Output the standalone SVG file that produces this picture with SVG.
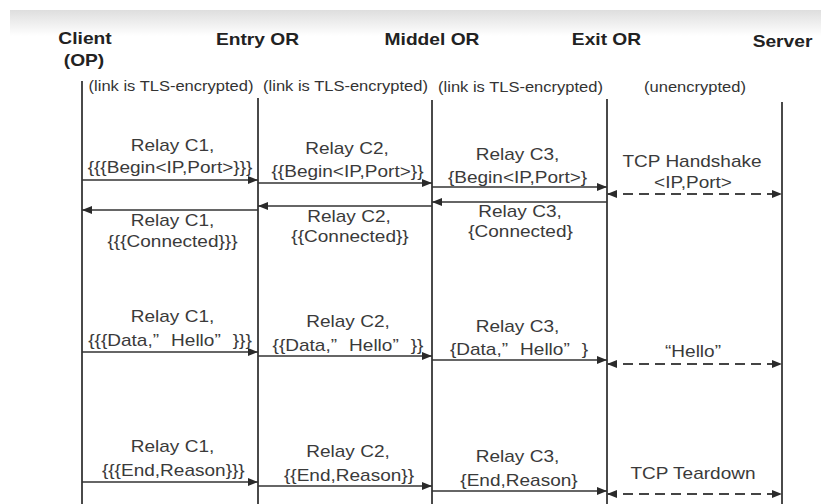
<svg xmlns="http://www.w3.org/2000/svg" width="821" height="504" viewBox="0 0 821 504">
  <style>
    .hdr { font-family: "Liberation Sans", Arial, sans-serif; font-size: 16px; font-weight: bold; fill: #222; text-anchor: middle; }
    .sub { font-family: "Liberation Sans", Arial, sans-serif; font-size: 14px; fill: #333; text-anchor: middle; }
    .lbl { font-family: "Liberation Sans", Arial, sans-serif; font-size: 17px; fill: #3a3a3a; text-anchor: middle; }
    .life { stroke: #4a4a4a; stroke-width: 2; fill: none; }
    .msg { stroke: #333; stroke-width: 1.6; fill: none; marker-end: url(#ah); }
    .tcp { stroke: #444; stroke-width: 2; fill: none; stroke-dasharray: 10 6; marker-start: url(#ah); marker-end: url(#ah); }
  </style>
  <defs>
    <linearGradient id="band" x1="0" y1="0" x2="0" y2="1">
      <stop offset="0" stop-color="#dedede"/>
      <stop offset="1" stop-color="#ffffff"/>
    </linearGradient>
    <marker id="ah" viewBox="0 0 10 8" refX="10" refY="4" markerWidth="10" markerHeight="8" markerUnits="userSpaceOnUse" orient="auto-start-reverse">
      <path d="M0,0 L10,4 L0,8 z" fill="#2a2a2a"/>
    </marker>
  </defs>

  <rect width="821" height="504" fill="#ffffff"/>
  <rect x="10" y="10" width="811" height="26" fill="url(#band)"/>

  <!-- participants -->
  <g id="client">
    <text class="hdr" transform="translate(85 0) scale(1.2 1)" y="44.5">Client</text>
    <text class="hdr" transform="translate(84 0) scale(1.2 1)" y="66.5">(OP)</text>
    <line class="life" x1="82" y1="81" x2="82" y2="504"/>
  </g>
  <g id="entry-or">
    <text class="hdr" transform="translate(257.5 0) scale(1.2 1)" y="45">Entry OR</text>
    <line class="life" x1="258" y1="98" x2="258" y2="504"/>
  </g>
  <g id="middle-or">
    <text class="hdr" transform="translate(432 0) scale(1.2 1)" y="45">Middel OR</text>
    <line class="life" x1="432" y1="100" x2="432" y2="504"/>
  </g>
  <g id="exit-or">
    <text class="hdr" transform="translate(606.5 0) scale(1.2 1)" y="45">Exit OR</text>
    <line class="life" x1="607" y1="99" x2="607" y2="504"/>
  </g>
  <g id="server">
    <text class="hdr" transform="translate(782.5 0) scale(1.2 1)" y="47.5">Server</text>
    <line class="life" x1="782" y1="102" x2="782" y2="504"/>
  </g>

  <!-- link notes -->
  <g id="links">
    <text class="sub" transform="translate(171 0) scale(1.18 1)" y="91">(link is TLS-encrypted)</text>
    <text class="sub" transform="translate(345.5 0) scale(1.18 1)" y="91">(link is TLS-encrypted)</text>
    <text class="sub" transform="translate(520.5 0) scale(1.18 1)" y="92">(link is TLS-encrypted)</text>
    <text class="sub" transform="translate(695 0) scale(1.18 1)" y="92">(unencrypted)</text>
  </g>

  <!-- messages -->
  <g id="connectors">
    <!-- circuit extension -->
    <line class="msg" x1="82" y1="180" x2="258" y2="180"/>
    <line class="msg" x1="258" y1="183" x2="432" y2="183"/>
    <line class="msg" x1="432" y1="187" x2="607" y2="187"/>
    <line class="tcp" x1="607" y1="194" x2="782" y2="194"/>
    <line class="msg" x1="607" y1="202" x2="432" y2="202"/>
    <line class="msg" x1="432" y1="206" x2="258" y2="206"/>
    <line class="msg" x1="258" y1="210" x2="82" y2="210"/>
    <!-- data -->
    <line class="msg" x1="82" y1="352" x2="258" y2="352"/>
    <line class="msg" x1="258" y1="356" x2="432" y2="356"/>
    <line class="msg" x1="432" y1="360" x2="607" y2="360"/>
    <line class="tcp" x1="607" y1="364" x2="782" y2="364"/>
    <!-- teardown -->
    <line class="msg" x1="82" y1="482" x2="258" y2="482"/>
    <line class="msg" x1="258" y1="486" x2="432" y2="486"/>
    <line class="msg" x1="432" y1="491" x2="607" y2="491"/>
    <line class="tcp" x1="607" y1="494" x2="782" y2="494"/>
  </g>

  <!-- message labels -->
  <g id="labels">
    <text class="lbl" transform="translate(172.5 0) scale(1.12 1)" y="151">Relay C1,</text>
    <text class="lbl" transform="translate(170 0) scale(1.12 1)" y="173">{{{Begin&lt;IP,Port&gt;}}}</text>
    <text class="lbl" transform="translate(347 0) scale(1.12 1)" y="154.5">Relay C2,</text>
    <text class="lbl" transform="translate(347.5 0) scale(1.12 1)" y="177">{{Begin&lt;IP,Port&gt;}}</text>
    <text class="lbl" transform="translate(517.5 0) scale(1.12 1)" y="160">Relay C3,</text>
    <text class="lbl" transform="translate(517.5 0) scale(1.12 1)" y="183">{Begin&lt;IP,Port&gt;}</text>
    <text class="lbl" transform="translate(692 0) scale(1.12 1)" y="167.5">TCP Handshake</text>
    <text class="lbl" transform="translate(693 0) scale(1.12 1)" y="188">&lt;IP,Port&gt;</text>

    <text class="lbl" transform="translate(520 0) scale(1.12 1)" y="217">Relay C3,</text>
    <text class="lbl" transform="translate(520.5 0) scale(1.12 1)" y="237">{Connected}</text>
    <text class="lbl" transform="translate(349 0) scale(1.12 1)" y="222.5">Relay C2,</text>
    <text class="lbl" transform="translate(350 0) scale(1.12 1)" y="242">{{Connected}}</text>
    <text class="lbl" transform="translate(172.5 0) scale(1.12 1)" y="226">Relay C1,</text>
    <text class="lbl" transform="translate(172.5 0) scale(1.12 1)" y="247">{{{Connected}}}</text>

    <text class="lbl" transform="translate(172.5 0) scale(1.12 1)" y="322">Relay C1,</text>
    <text class="lbl" transform="translate(170 0) scale(1.12 1)" y="346">{{{Data,”<tspan dx="6"> Hello”</tspan><tspan dx="6"> }}}</tspan></text>
    <text class="lbl" transform="translate(348 0) scale(1.12 1)" y="327">Relay C2,</text>
    <text class="lbl" transform="translate(348 0) scale(1.12 1)" y="351">{{Data,”<tspan dx="6"> Hello”</tspan><tspan dx="6"> }}</tspan></text>
    <text class="lbl" transform="translate(517.5 0) scale(1.12 1)" y="332">Relay C3,</text>
    <text class="lbl" transform="translate(519 0) scale(1.12 1)" y="355.5">{Data,”<tspan dx="6"> Hello”</tspan><tspan dx="6"> }</tspan></text>
    <text class="lbl" transform="translate(693 0) scale(1.12 1)" y="357">“Hello”</text>

    <text class="lbl" transform="translate(172.5 0) scale(1.12 1)" y="452">Relay C1,</text>
    <text class="lbl" transform="translate(173.3 0) scale(1.12 1)" y="476.5">{{{End,Reason}}}</text>
    <text class="lbl" transform="translate(348 0) scale(1.12 1)" y="457">Relay C2,</text>
    <text class="lbl" transform="translate(349 0) scale(1.12 1)" y="481">{{End,Reason}}</text>
    <text class="lbl" transform="translate(517.5 0) scale(1.12 1)" y="462.5">Relay C3,</text>
    <text class="lbl" transform="translate(519 0) scale(1.12 1)" y="486">{End,Reason}</text>
    <text class="lbl" transform="translate(693 0) scale(1.12 1)" y="479">TCP Teardown</text>
  </g>
</svg>
